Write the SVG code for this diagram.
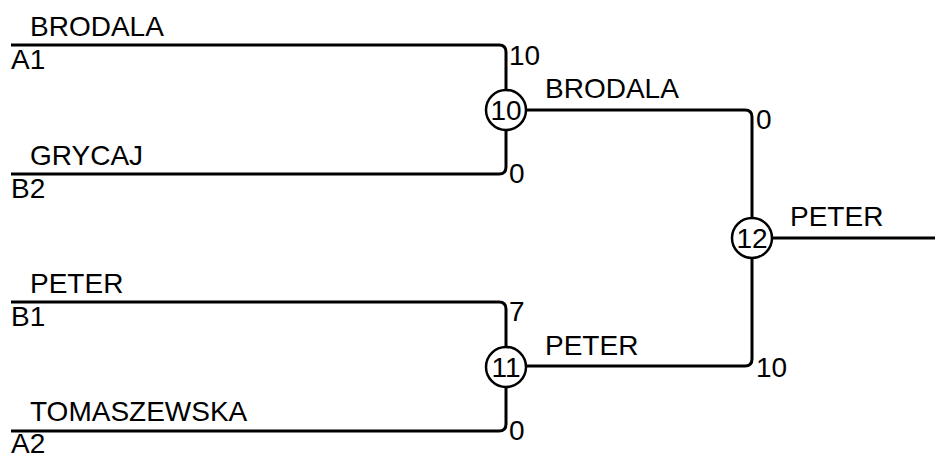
<svg xmlns="http://www.w3.org/2000/svg" width="935" height="455" viewBox="0 0 935 455">
<style>
text{font-family:"Liberation Sans",Arial,sans-serif;font-size:28px;fill:#000}
.ln{fill:none;stroke:#000;stroke-width:3}
.nd{fill:#fff;stroke:#000;stroke-width:2.5}
.mid{text-anchor:middle}
</style>
<rect width="935" height="455" fill="#fff"/>
<g id="connectors">
<path class="ln" d="M11,45 H499 Q506,45 506,52 V90"/>
<path class="ln" d="M11,174 H499 Q506,174 506,167 V130"/>
<path class="ln" d="M11,302 H499 Q506,302 506,309 V347"/>
<path class="ln" d="M11,431 H499 Q506,431 506,424 V387"/>
<path class="ln" d="M526,110 H745 Q752,110 752,117 V218"/>
<path class="ln" d="M526,366 H745 Q752,366 752,359 V258"/>
<path class="ln" d="M772,238 H935"/>
</g>
<g id="entry-A1"><text x="30" y="36">BRODALA</text><text x="11" y="69">A1</text></g>
<g id="entry-B2"><text x="30" y="165">GRYCAJ</text><text x="11" y="198">B2</text></g>
<g id="entry-B1"><text x="30" y="293">PETER</text><text x="11" y="326">B1</text></g>
<g id="entry-A2"><text x="30" y="421">TOMASZEWSKA</text><text x="11" y="452.5">A2</text></g>
<g id="scores">
<text x="509" y="65">10</text>
<text x="509" y="183">0</text>
<text x="509" y="321">7</text>
<text x="509" y="440">0</text>
<text x="756" y="129">0</text>
<text x="756" y="377">10</text>
</g>
<g id="node-10"><circle class="nd" cx="506" cy="110" r="20"/><text class="mid" x="506" y="120">10</text><text x="545" y="98">BRODALA</text></g>
<g id="node-11"><circle class="nd" cx="506" cy="367" r="20"/><text class="mid" x="506" y="377">11</text><text x="545" y="355">PETER</text></g>
<g id="node-12"><circle class="nd" cx="752" cy="238" r="20"/><text class="mid" x="752" y="248">12</text><text x="790" y="226">PETER</text></g>
</svg>
